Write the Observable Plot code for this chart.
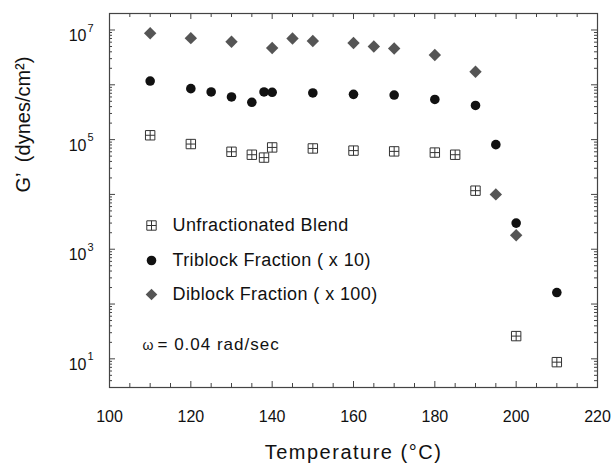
<!DOCTYPE html>
<html><head><meta charset="utf-8">
<script src="https://cdn.jsdelivr.net/npm/d3@7"></script>
<script src="https://cdn.jsdelivr.net/npm/@observablehq/plot@0.6"></script>
<style>
body{margin:0;background:#fff;}
#chart svg text{font-family:"Liberation Sans",Arial,Helvetica,sans-serif;}
</style></head><body><div id="chart"></div>
<script>
// Unfractionated Blend
const blendTemp = [110,120,130,135,138,140,150,160,170,180,185,190,200,210];
const blendG = [1.2e5,8.3e4,6.0e4,5.3e4,4.7e4,7.2e4,6.9e4,6.3e4,6.1e4,5.8e4,5.3e4,1.17e4,26,8.7];
// Triblock Fraction (x 10)
const triTemp = [110,120,125,130,135,138,140,150,160,170,180,190,195,200,210];
const triG = [1.17e6,8.5e5,7.4e5,6.0e5,4.8e5,7.4e5,7.3e5,7.1e5,6.7e5,6.5e5,5.4e5,4.2e5,8.1e4,3.0e3,162];
// Diblock Fraction (x 100)
const diTemp = [110,120,130,140,145,150,160,165,170,180,190,195,200];
const diG = [8.7e6,7.1e6,6.1e6,4.7e6,7.0e6,6.3e6,5.8e6,5.0e6,4.6e6,3.5e6,1.73e6,1.0e4,1.8e3];

const legendLabels = ["Unfractionated Blend","Triblock Fraction ( x 10)","Diblock Fraction ( x 100)"];
const xTitle = "Temperature (°C)";
const yTitle = "G’  (dynes/cm²)";
const omegaNote = "= 0.04 rad/sec";
const xTickLabels = [100,120,140,160,180,200,220];
const yLabelTicks = [1e1,1e3,1e5,1e7];
const yMajorTicks = [1e1,1e2,1e3,1e4,1e5,1e6,1e7];
const xMinorTicks = d3.range(100,221,5).filter(v => v % 20 !== 0);

const yMinorTicks = [];
for (let e = 0; e <= 7; e++) for (let m = 2; m <= 9; m++) {
  const v = m * Math.pow(10, e);
  if (v >= 3 && v <= 2e7) yMinorTicks.push(v);
}

const W = 616, H = 464, ML = 109, MR = 19, MT = 13, MB = 77;
const PW = W - ML - MR, PH = H - MT - MB;

const squarePlus = {draw(ctx, size){ const s = Math.sqrt(size/Math.PI);
  ctx.moveTo(-s,-s); ctx.lineTo(s,-s); ctx.lineTo(s,s); ctx.lineTo(-s,s); ctx.closePath();
  ctx.moveTo(-s,0); ctx.lineTo(s,0); ctx.moveTo(0,-s); ctx.lineTo(0,s); }};
const diamond = {draw(ctx, size){ const h = Math.sqrt(size/Math.PI);
  ctx.moveTo(0,-h); ctx.lineTo(h,0); ctx.lineTo(0,h); ctx.lineTo(-h,0); ctx.closePath(); }};

const blend = blendTemp.map((t,i) => ({t, g: blendG[i]}));
const tri = triTemp.map((t,i) => ({t, g: triG[i]}));
const di = diTemp.map((t,i) => ({t, g: diG[i]}));

const axisColor = "#444";
const txt = {fill: "#111", lineAnchor: "middle"};
const chart = Plot.plot({
  width: W, height: H,
  marginLeft: ML, marginRight: MR, marginTop: MT, marginBottom: MB,
  style: {background: "#fff", color: "#111"},
  x: {domain: [100, 220], axis: null},
  y: {type: "log", domain: [3, 2e7], axis: null},
  marks: [
    Plot.frame({stroke: axisColor, strokeWidth: 1.2}),
    // x ticks (inward), bottom and top
    Plot.tickX(xTickLabels, {x: d => d, insetTop: PH - 6, stroke: axisColor}),
    Plot.tickX(xTickLabels, {x: d => d, insetBottom: PH - 6, stroke: axisColor}),
    Plot.tickX(xMinorTicks, {x: d => d, insetTop: PH - 4, stroke: axisColor}),
    Plot.tickX(xMinorTicks, {x: d => d, insetBottom: PH - 4, stroke: axisColor}),
    // y ticks (inward), left and right
    Plot.tickY(yMajorTicks, {y: d => d, insetRight: PW - 6, stroke: axisColor}),
    Plot.tickY(yMajorTicks, {y: d => d, insetLeft: PW - 6, stroke: axisColor}),
    Plot.tickY(yMinorTicks, {y: d => d, insetRight: PW - 3, stroke: axisColor}),
    Plot.tickY(yMinorTicks, {y: d => d, insetLeft: PW - 3, stroke: axisColor}),
    // x tick labels
    Plot.text(xTickLabels, {...txt, x: d => d, text: d => String(d), frameAnchor: "bottom", dy: 29, fontSize: 16}),
    // y tick labels: 10 with superscript exponent
    Plot.text(yLabelTicks, {...txt, y: d => d, text: () => "10", frameAnchor: "left", dx: -23, dy: 6, textAnchor: "end", fontSize: 16}),
    Plot.text(yLabelTicks, {...txt, y: d => d, text: d => String(Math.round(Math.log10(d))), frameAnchor: "left", dx: -22, dy: -2, textAnchor: "start", fontSize: 11}),
    // axis titles
    Plot.text([xTitle], {...txt, text: d => d, frameAnchor: "bottom", dy: 65, fontSize: 20}),
    Plot.text([yTitle], {...txt, text: d => d, frameAnchor: "left", dx: -86, dy: -8, rotate: -90, fontSize: 20}),
    // data
    Plot.dot(blend, {x: "t", y: "g", symbol: squarePlus, r: 4.7, stroke: "#333", strokeWidth: 1, fill: "#fff"}),
    Plot.dot(tri, {x: "t", y: "g", symbol: "circle", r: 4.8, fill: "#111", stroke: "none"}),
    Plot.dot(di, {x: "t", y: "g", symbol: diamond, r: 6.2, fill: "#555", stroke: "none"}),
    // legend
    Plot.dot([0], {x: null, y: null, frameAnchor: "top-left", dx: 42, dy: 212, symbol: squarePlus, r: 4.7, stroke: "#333", strokeWidth: 1, fill: "#fff"}),
    Plot.dot([0], {x: null, y: null, frameAnchor: "top-left", dx: 42, dy: 247, symbol: "circle", r: 4.8, fill: "#111", stroke: "none"}),
    Plot.dot([0], {x: null, y: null, frameAnchor: "top-left", dx: 42, dy: 281, symbol: diamond, r: 5.8, fill: "#555", stroke: "none"}),
    Plot.text([legendLabels[0]], {...txt, text: d => d, frameAnchor: "top-left", dx: 63, dy: 212, textAnchor: "start", fontSize: 18}),
    Plot.text([legendLabels[1]], {...txt, text: d => d, frameAnchor: "top-left", dx: 63, dy: 247, textAnchor: "start", fontSize: 18}),
    Plot.text([legendLabels[2]], {...txt, text: d => d, frameAnchor: "top-left", dx: 63, dy: 281, textAnchor: "start", fontSize: 18}),
    Plot.text(["ω"], {...txt, text: d => d, frameAnchor: "top-left", dx: 33, dy: 332, textAnchor: "start", fontSize: 14, fontFamily: "Liberation Serif"}),
    Plot.text([omegaNote], {...txt, text: d => d, frameAnchor: "top-left", dx: 48, dy: 331, textAnchor: "start", fontSize: 17})
  ]
});
const spacing = new Map([[xTitle, "1.5px"], [omegaNote, "1px"], ...legendLabels.map(l => [l, "0.4px"])]);
d3.select(chart).selectAll("text").each(function() {
  const s = spacing.get(this.textContent);
  if (s) this.style.letterSpacing = s;
});
document.getElementById("chart").appendChild(chart);
</script></body></html>
